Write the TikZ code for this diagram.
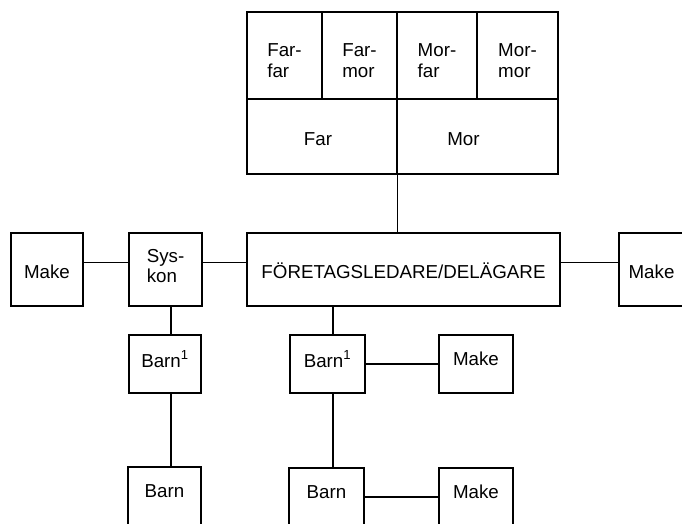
\documentclass[tikz,border=0pt]{standalone}
\usepackage{fontspec}
\setmainfont{Liberation Sans}
\usetikzlibrary{calc}

\tikzset{
  box/.style={draw,line width=1pt,inner sep=0pt,align=left,
    font=\fontsize{16}{19}\selectfont},
  sz/.style 2 args={minimum width=#1*0.3mm,minimum height=#2*0.3mm},
  up/.style={text depth=#1*0.6mm},
  down/.style={text height=4.1mm+#1*0.6mm},
  twoline/.style={font=\fontsize{16}{18}\selectfont,text height=4.1mm+18pt+3mm}
}

\begin{document}
\begin{tikzpicture}[x=0.3mm,y=-0.3mm,line width=1pt]
\clip (0,0) rectangle (682,523);
\node[box,sz={75}{87},twoline] (farfar) at (284.5,55.5) {Far-\\far};
\node[box,sz={75}{87},twoline] (farmor) at (359.5,55.5) {Far-\\mor};
\node[box,sz={80}{87},twoline] (morfar) at (437,55.5) {Mor-\\far};
\node[box,sz={81}{87},twoline] (mormor) at (517.5,55.5) {Mor-\\mor};
\node[box,sz={150}{75},down=2.5] (far) at (322,136.5) {Far\hspace*{2.4mm}};
\node[box,sz={161}{75},down=2.5] (mor) at (477.5,136.5) {Mor\hspace*{8.4mm}};
\node[box,sz={72}{73},down=2.5] (makeL) at (47,269.5) {Make};
\node[box,sz={73}{73},font=\fontsize{16}{17}\selectfont,up=4] (sys) at (165.5,269.5) {Sys-\\kon};
\node[box,sz={313}{73},down=2.5] (for) at (403.5,269.5) {FÖRETAGSLEDARE/DELÄGARE};
\node[box,sz={65}{73},down=2.5] (makeR) at (651.5,269.5) {Make};
\node[box,sz={72}{58},up=5] (barnA) at (165,364) {Barn\textsuperscript{1}};
\node[box,sz={75}{58},up=5] (barnB) at (327.5,364) {Barn\textsuperscript{1}};
\node[box,sz={74}{58},up=5] (makeB) at (476,364) {Make};
\node[box,sz={73}{58},up=5] (barnD) at (164.5,496) {Barn};
\node[box,sz={75}{58},up=5] (barnC) at (326.5,497) {Barn};
\node[box,sz={74}{58},up=5] (makeC) at (476,497) {Make};
\draw (far.south east) -- (far.south east |- for.north);
\draw ($(makeL.east)+(0,-7)$) -- ($(sys.west)+(0,-7)$);
\draw ($(sys.east)+(0,-7)$) -- ($(for.west)+(0,-7)$);
\draw ($(for.east)+(0,-7)$) -- ($(makeR.west)+(0,-7)$);
\draw ($(sys.south)+(5.5,0)$) -- ($(barnA.north)+(6,0)$);
\draw ($(barnA.south)+(6,0)$) -- ($(barnD.north)+(6.5,0)$);
\draw ($(for.south)+(-70.5,0)$) -- ($(barnB.north)+(5.5,0)$);
\draw ($(barnB.south)+(5.5,0)$) -- ($(barnC.north)+(6.5,0)$);
\draw (barnB.east) -- (makeB.west);
\draw (barnC.east) -- (makeC.west);
\end{tikzpicture}
\end{document}
